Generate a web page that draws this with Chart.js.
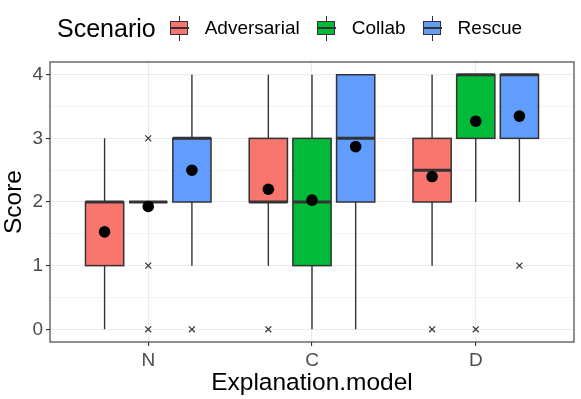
<!DOCTYPE html>
<html>
<head>
<meta charset="utf-8">
<script src="https://cdn.jsdelivr.net/npm/chart.js@4.4.1/dist/chart.umd.min.js"></script>
<style>
  html, body { margin: 0; padding: 0; background: #fff; }
  #wrap { position: relative; width: 581px; height: 399px; font-family: 'Liberation Sans', Arial, sans-serif; }
  #legend { position: absolute; top: 13px; left: 57px; height: 30px; display: flex; align-items: center; }
  #legend .title { font-size: 25px; margin-right: 14px; color: #000; }
  #legend .key { position: relative; width: 19px; height: 25px; margin-right: 16px; }
  #legend .key .wh { position: absolute; left: 9px; top: 0; width: 1.3px; height: 25px; background: #333; }
  #legend .key .bx { position: absolute; left: 0; top: 5px; width: 16px; height: 12px; border: 1.5px solid #333; }
  #legend .key .md { position: absolute; left: 0; top: 11.5px; width: 19px; height: 2px; background: #333; }
  #legend .lab { font-size: 19px; margin-right: 17px; color: #000; }
</style>
</head>
<body>
<div id="wrap">
  <canvas id="box_chart" width="581" height="399"></canvas>
  <div id="legend"></div>
</div>
<script>
const categories = ['N', 'C', 'D'];
const scenarios = ['Adversarial', 'Collab', 'Rescue'];
const fills = ['#F8766D', '#00BA38', '#619CFF'];
const yTicks = [0, 1, 2, 3, 4];

// per scenario, one value per category (N, C, D)
const adv_lower = [0, 1, 1];
const adv_q1 = [1, 2, 2];
const adv_median = [2, 2, 2.5];
const adv_q3 = [2, 3, 3];
const adv_upper = [3, 4, 4];
const adv_mean = [1.53, 2.2, 2.4];
const adv_outliers = [[], [0], [0]];

const col_lower = [2, 0, 2];
const col_q1 = [2, 1, 3];
const col_median = [2, 2, 4];
const col_q3 = [2, 3, 4];
const col_upper = [2, 4, 4];
const col_mean = [1.93, 2.03, 3.27];
const col_outliers = [[0, 1, 3], [], [0]];

const res_lower = [1, 0, 2];
const res_q1 = [2, 2, 3];
const res_median = [3, 3, 4];
const res_q3 = [3, 4, 4];
const res_upper = [4, 4, 4];
const res_mean = [2.5, 2.87, 3.35];
const res_outliers = [[0], [], [1]];

const stats = [
  {lower: adv_lower, q1: adv_q1, median: adv_median, q3: adv_q3, upper: adv_upper, mean: adv_mean, out: adv_outliers},
  {lower: col_lower, q1: col_q1, median: col_median, q3: col_q3, upper: col_upper, mean: col_mean, out: col_outliers},
  {lower: res_lower, q1: res_q1, median: res_median, q3: res_q3, upper: res_upper, mean: res_mean, out: res_outliers}
];

const dodge = 0.8;
const boxWidth = 0.7;
const off = s => (s - 1) * dodge / scenarios.length;

const meanPoints = [];
const outlierPoints = [];
stats.forEach((st, s) => {
  categories.forEach((c, i) => {
    meanPoints.push({x: i + 1 + off(s), y: st.mean[i]});
    st.out[i].forEach(v => outlierPoints.push({x: i + 1 + off(s), y: v}));
  });
});

const boxSets = scenarios.map((name, s) => ({
  type: 'bar',
  label: name,
  stats: stats[s],
  data: categories.map((c, i) => ({x: i + 1, y: [stats[s].q1[i], stats[s].q3[i]]})),
  backgroundColor: fills[s],
  borderWidth: 0,
  categoryPercentage: dodge,
  barPercentage: boxWidth / dodge
}));

const boxParts = {
  id: 'boxParts',
  beforeDatasetsDraw(chart) {
    // whiskers, under the boxes
    const y = chart.scales.y;
    const c = chart.ctx;
    c.save();
    c.strokeStyle = '#333333';
    c.lineWidth = 1.4;
    chart.data.datasets.forEach((ds, d) => {
      if (!ds.stats) return;
      chart.getDatasetMeta(d).data.forEach((bar, i) => {
        c.beginPath();
        c.moveTo(bar.x, y.getPixelForValue(ds.stats.upper[i]));
        c.lineTo(bar.x, y.getPixelForValue(ds.stats.q3[i]));
        c.moveTo(bar.x, y.getPixelForValue(ds.stats.q1[i]));
        c.lineTo(bar.x, y.getPixelForValue(ds.stats.lower[i]));
        c.stroke();
      });
    });
    c.restore();
  },
  afterDatasetDraw(chart, args) {
    // box outline + median
    const ds = chart.data.datasets[args.index];
    if (!ds.stats) return;
    const y = chart.scales.y;
    const c = chart.ctx;
    c.save();
    c.strokeStyle = '#333333';
    args.meta.data.forEach((bar, i) => {
      const left = bar.x - bar.width / 2;
      const top = y.getPixelForValue(ds.stats.q3[i]);
      const bottom = y.getPixelForValue(ds.stats.q1[i]);
      c.lineWidth = 1.5;
      c.strokeRect(left, top, bar.width, bottom - top);
      const py = y.getPixelForValue(ds.stats.median[i]);
      c.lineWidth = 3;
      c.beginPath();
      c.moveTo(left, py);
      c.lineTo(left + bar.width, py);
      c.stroke();
    });
    c.restore();
  },
  afterDraw(chart) {
    const a = chart.chartArea;
    const c = chart.ctx;
    c.save();
    c.strokeStyle = '#333333';
    c.lineWidth = 1.1;
    c.strokeRect(a.left, a.top, a.right - a.left, a.bottom - a.top);
    c.restore();
  }
};

Chart.defaults.font.family = "'Liberation Sans', Arial, sans-serif";

let ctx = document.getElementById('box_chart').getContext('2d');
let box_chart = new Chart(ctx, {
  type: 'bar',
  data: {
    datasets: [
      {
        type: 'scatter',
        label: 'mean',
        data: meanPoints,
        backgroundColor: '#000000',
        borderWidth: 0,
        pointRadius: 5.8,
        pointHoverRadius: 5.8
      },
      {
        type: 'scatter',
        label: 'outliers',
        data: outlierPoints,
        pointStyle: 'crossRot',
        borderColor: '#333333',
        borderWidth: 1.2,
        pointRadius: 4.2,
        pointHoverRadius: 4.2
      },
      ...boxSets
    ]
  },
  options: {
    responsive: false,
    animation: false,
    devicePixelRatio: 1,
    layout: {padding: {top: 62, right: 7, left: 0, bottom: 0}},
    plugins: {
      legend: {display: false},
      tooltip: {enabled: false}
    },
    scales: {
      x: {
        type: 'linear',
        min: 0.4,
        max: 3.6,
        offset: false,
        afterBuildTicks: s => { s.ticks = categories.map((c, i) => ({value: i + 1})); },
        afterFit: s => { s.height = 57; },
        ticks: {
          callback: v => categories[v - 1],
          color: '#4D4D4D',
          font: {size: 19},
          padding: 3,
          maxRotation: 0,
          autoSkip: false
        },
        grid: {color: '#EBEBEB', lineWidth: 1.1, tickLength: 4, tickColor: '#333333', offset: false},
        border: {display: false},
        title: {display: true, text: 'Explanation.model', color: '#000', font: {size: 24.5}, padding: {top: 0, bottom: 1}}
      },
      y: {
        type: 'linear',
        min: -0.2,
        max: 4.2,
        afterBuildTicks: s => {
          const t = [];
          yTicks.forEach((v, i) => {
            t.push({value: v});
            if (i < yTicks.length - 1) t.push({value: (v + yTicks[i + 1]) / 2});
          });
          s.ticks = t;
        },
        afterFit: s => { s.width = 50; },
        ticks: {
          callback: v => (Number.isInteger(v) ? v : ''),
          color: '#4D4D4D',
          font: {size: 19},
          padding: 3
        },
        grid: {
          color: '#EBEBEB',
          lineWidth: c => (Number.isInteger(c.tick.value) ? 1.1 : 0.6),
          tickLength: 4,
          tickColor: c => (Number.isInteger(c.tick.value) ? '#333333' : 'rgba(0,0,0,0)')
        },
        border: {display: false},
        title: {display: true, text: 'Score', color: '#000', font: {size: 24.5}, padding: 0}
      }
    }
  },
  plugins: [boxParts]
});

// legend in the ggplot layout: title on the left, keys in a row
const legend = document.getElementById('legend');
legend.innerHTML = '<span class="title">Scenario</span>' + scenarios.map((name, s) =>
  '<span class="key"><span class="wh"></span><span class="bx" style="background:' + fills[s] + '"></span><span class="md"></span></span>' +
  '<span class="lab">' + name + '</span>').join('');
</script>
</body>
</html>
